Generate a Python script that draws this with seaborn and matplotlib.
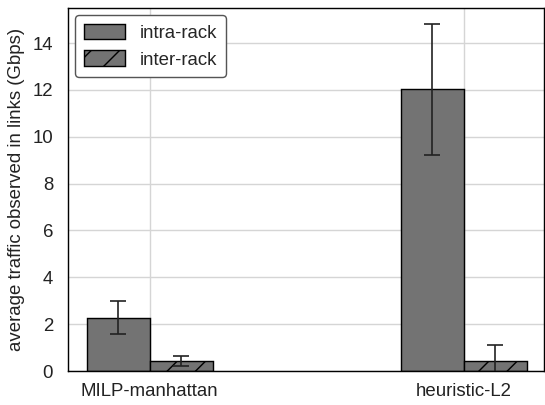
import numpy as np
import pandas as pd
import matplotlib
matplotlib.use("Agg")
import matplotlib.pyplot as plt
import seaborn as sns

methods = ["MILP-manhattan", "heuristic-L2"]
series = ["intra-rack", "inter-rack"]
intra_mean = [2.28, 12.02]
intra_err = [0.70, 2.80]
inter_mean = [0.43, 0.43]
inter_err = [0.22, 0.70]

df = pd.DataFrame({
    "method": methods * 2,
    "type": [series[0]] * 2 + [series[1]] * 2,
    "value": intra_mean + inter_mean,
    "err": intra_err + inter_err,
})

sns.set_theme(style="whitegrid")
plt.rcParams["font.family"] = ["Liberation Sans", "DejaVu Sans"]
plt.rcParams["hatch.linewidth"] = 0.6
DPI = 170
fig, ax = plt.subplots(figsize=(545 / DPI, 405 / DPI), dpi=DPI)
fs = 7.9

sns.barplot(data=df, x="method", y="value", hue="type", order=methods,
            hue_order=series, width=0.4,
            palette=["#737373", "#737373"], edgecolor="black", linewidth=0.6,
            errorbar=None, ax=ax, saturation=1, legend=False)

hatches = {"intra-rack": "", "inter-rack": "//"}
for cont, name in zip(ax.containers, series):
    errs = df[df["type"] == name].set_index("method").loc[methods, "err"].values
    for bar, e in zip(cont, errs):
        bar.set_hatch(hatches[name])
        bar.set_label("_nolegend_")
        cx = bar.get_x() + bar.get_width() / 2
        ax.errorbar(cx, bar.get_height(), yerr=e, color="#222222",
                    elinewidth=0.7, capsize=3.5, capthick=0.7, zorder=5)
    cont.set_label(name)

ax.set_ylim(0, 15.5)
ax.set_xlim(-0.26, 1.255)
ax.set_yticks(range(0, 15, 2))
ax.set_xlabel("")
ax.set_ylabel("average traffic observed in links (Gbps)", fontsize=fs, color="#222222", labelpad=3)
ax.tick_params(axis="y", labelsize=fs, colors="#222222", pad=6.3, length=0)
ax.tick_params(axis="x", labelsize=fs, colors="#222222", pad=5, length=0)
for s in ax.spines.values():
    s.set_color("black")
    s.set_linewidth(0.6)
ax.grid(True, color="#d5d5d5", linewidth=0.6)

handles = [ax.containers[0].patches[0], ax.containers[1].patches[0]]
leg = ax.legend(handles, series, loc="upper left", fontsize=fs, frameon=True, fancybox=True,
                edgecolor="#555555", handlelength=2.2, handleheight=0.9,
                borderpad=0.45, labelspacing=0.45, handletextpad=0.8,
                borderaxespad=0.4)
leg.get_frame().set_linewidth(0.6)
leg.get_frame().set_facecolor("white")
leg.get_frame().set_alpha(1)

fig.subplots_adjust(left=68 / 545, right=544 / 545, top=1 - 8 / 405, bottom=1 - 371 / 405)
fig.savefig("out.png", dpi=DPI)
